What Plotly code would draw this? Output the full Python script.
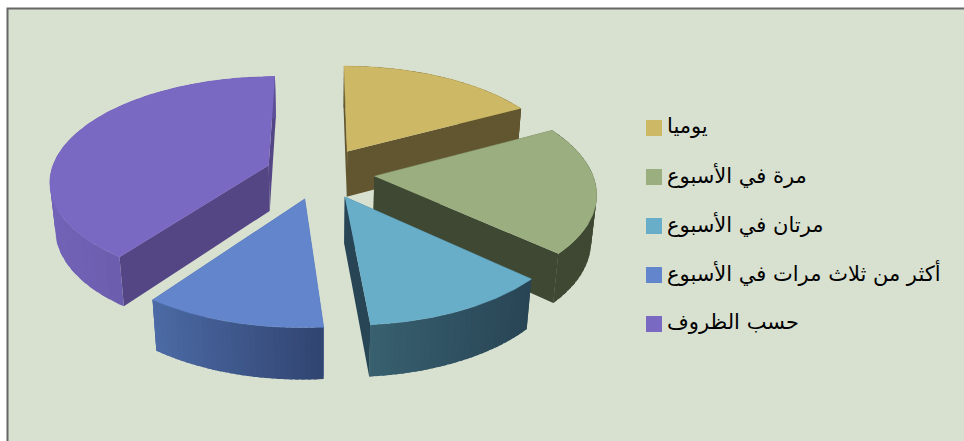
import numpy as np
import plotly.graph_objects as go

# Survey shares, in percent, clockwise from twelve o'clock
categories = ["يوميا", "مرة في الأسبوع", "مرتان في الأسبوع",
              "أكثر من ثلاث مرات في الأسبوع", "حسب الظروف"]
values = [17.2, 19.6, 11.9, 11.3, 40.0]

top_colors = ["#CDB866", "#9BAE80", "#68AEC9", "#6285CB", "#7A69C3"]
radial_wall_colors = ["#61562F", "#3F4832", "#284555", "#4C6AA5", "#544685"]
arc_wall_left = ["#61562F", "#3F4832", "#38606F", "#4C6AA5", "#7263B8"]
arc_wall_right = ["#61562F", "#3F4832", "#284555", "#304470", "#5E4F98"]

# Back-to-front paint order of the exploded slices
paint_order = [0, 4, 1, 3, 2]

# Pie geometry in pixel units
CX, CY = 320.0, 173.0
RX, RY = 218.0, 103.0
DEPTH = 47.0
PULL = 0.25
PERSP_Y = 0.14
PERSP_Z = 0.02


def project(x, y, z):
    """Perspective projection; z is 0 on the top face and 1 on the bottom."""
    s = 1.0 / (1.0 + PERSP_Y * y + PERSP_Z * z)
    return CX + RX * x * s, CY - RY * y * s + DEPTH * z * s


def mix(c1, c2, t):
    a = [int(c1[i:i + 2], 16) for i in (1, 3, 5)]
    b = [int(c2[i:i + 2], 16) for i in (1, 3, 5)]
    return "rgb(%d,%d,%d)" % tuple(round(p + (q - p) * t) for p, q in zip(a, b))


def polygon(xs, ys, color, edge=0.0):
    return go.Scatter(x=list(xs), y=list(ys), mode="lines", fill="toself",
                      fillcolor=color, line=dict(color=color, width=edge),
                      hoverinfo="skip", showlegend=False)


fig = go.Figure()

edges = np.cumsum([0] + values) / sum(values) * 2 * np.pi

for i in paint_order:
    a0, a1 = edges[i], edges[i + 1]
    mid = (a0 + a1) / 2
    ax, ay = PULL * np.sin(mid), PULL * np.cos(mid)
    th = np.linspace(a0, a1, 90)
    ox, oy = ax + np.sin(th), ay + np.cos(th)

    # Radial walls, running from the apex to each end of the rim
    for a in (a0, a1):
        ex, ey = ax + np.sin(a), ay + np.cos(a)
        px, py = zip(project(ax, ay, 0), project(ex, ey, 0),
                     project(ex, ey, 1), project(ax, ay, 1))
        fig.add_trace(polygon(px, py, radial_wall_colors[i]))

    # Outer wall, split into overlapping strips so its shade runs left to right
    tx, ty = project(ox, oy, 0)
    bx, by = project(ox, oy, 1)
    lo, hi = tx.min(), tx.max()
    for k in range(0, len(th) - 1, 3):
        e = min(k + 6, len(th))
        t = ((tx[k] + tx[min(k + 3, e - 1)]) / 2 - lo) / max(hi - lo, 1)
        color = mix(arc_wall_left[i], arc_wall_right[i], t)
        fig.add_trace(polygon(np.r_[tx[k:e], bx[k:e][::-1]],
                              np.r_[ty[k:e], by[k:e][::-1]], color))

    # Top face
    apx, apy = project(ax, ay, 0)
    fig.add_trace(polygon(np.r_[apx, tx], np.r_[apy, ty], top_colors[i], edge=0.5))

# Legend rows: swatch and label
shapes = [dict(type="rect", xref="x", yref="y", x0=7.5, y0=8.5, x1=975, y1=460,
               fillcolor="#D8E0D0", line=dict(color="#666666", width=2), layer="below")]
annotations = []
for row, (name, color) in enumerate(zip(categories, top_colors)):
    yc = 128 + 49 * row
    shapes.append(dict(type="rect", xref="x", yref="y", x0=646, x1=662,
                       y0=yc - 8, y1=yc + 8, fillcolor=color, line_width=0))
    annotations.append(dict(x=665, y=yc - 2, xref="x", yref="y", text=name,
                            xanchor="left", yanchor="middle", showarrow=False,
                            font=dict(family="DejaVu Sans", size=21, color="#000000")))

fig.update_layout(
    width=964, height=441,
    margin=dict(l=0, r=0, t=0, b=0),
    paper_bgcolor="#FFFFFF", plot_bgcolor="rgba(0,0,0,0)",
    xaxis=dict(range=[0, 964], visible=False, fixedrange=True),
    yaxis=dict(range=[441, 0], visible=False, fixedrange=True),
    shapes=shapes, annotations=annotations, showlegend=False,
)

fig.write_html("out.html", config={"displayModeBar": False})
